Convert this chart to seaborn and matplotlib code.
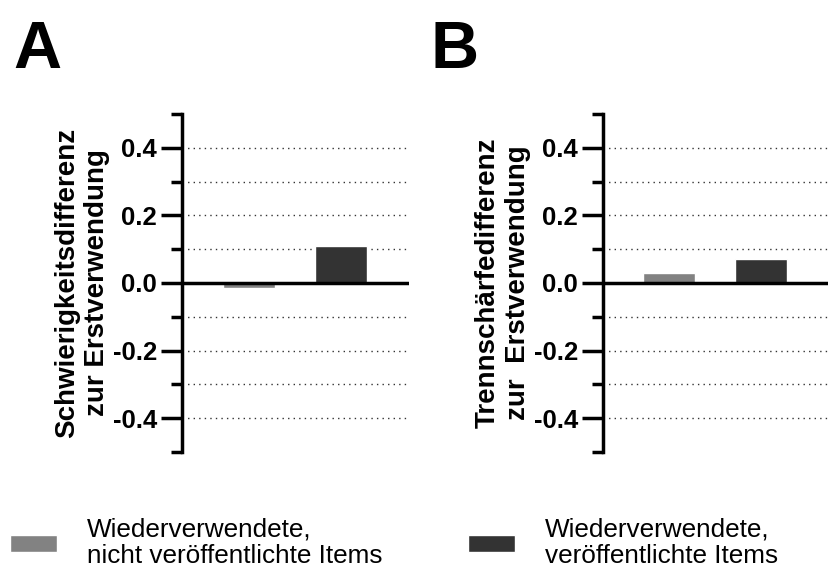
import numpy as np
import pandas as pd
import matplotlib.pyplot as plt
import seaborn as sns
from matplotlib.ticker import MultipleLocator

sns.set_style("ticks")
plt.rcParams.update({
    "font.family": ["Liberation Sans", "DejaVu Sans"],
    "axes.edgecolor": "black",
    "axes.linewidth": 2.5,
    "text.color": "black",
    "axes.labelcolor": "black",
    "ytick.color": "black",
    "xtick.color": "black",
})

# Values
groups = ["Wiederverwendete,\nnicht veröffentlichte Items",
          "Wiederverwendete,\nveröffentlichte Items"]
difficulty_diff = [-0.015, 0.11]      # Panel A
discrimination_diff = [0.03, 0.07]    # Panel B
panel_letters = ["A", "B"]
ylabels = ["Schwierigkeitsdifferenz\nzur Erstverwendung",
           "Trennschärfedifferenz\nzur  Erstverwendung"]
colors = ["#828282", "#333333"]

df = pd.DataFrame({
    "group": groups * 2,
    "value": difficulty_diff + discrimination_diff,
    "panel": ["A"] * 2 + ["B"] * 2,
})

fig = plt.figure(figsize=(8.29, 5.74), dpi=100)
ax_pos = [[0.2195, 0.2125, 0.274, 0.589],
          [0.7274, 0.2125, 0.2716, 0.589]]

handles = None
for i, panel in enumerate(panel_letters):
    ax = fig.add_axes(ax_pos[i])
    sub = df[df["panel"] == panel]
    sns.barplot(data=sub, x="group", y="value", hue="group", palette=colors,
                width=0.56, ax=ax, legend=True, saturation=1, zorder=2)
    h, l = ax.get_legend_handles_labels()
    if handles is None:
        handles, labels = h, l
    ax.get_legend().remove()

    ax.set_ylim(-0.5, 0.5)
    ax.set_xlim(-0.72, 1.73)
    ax.yaxis.set_major_locator(MultipleLocator(0.2))
    ax.yaxis.set_minor_locator(MultipleLocator(0.1))
    ax.yaxis.set_major_formatter(lambda v, p: f"{v:.1f}".replace("-0.0", "0.0"))
    ax.tick_params(axis="y", which="major", length=15, width=2.5,
                   labelsize=18.5, pad=3)
    ax.tick_params(axis="y", which="minor", length=8, width=2.5)
    for t in ax.get_yticklabels():
        t.set_fontweight("bold")
    ax.set_xticks([])
    ax.set_xlabel("")
    ax.set_ylabel(ylabels[i], fontsize=20, fontweight="bold", labelpad=2)
    for s in ["top", "right", "bottom"]:
        ax.spines[s].set_visible(False)

    # dotted grid except at the limits
    ax.yaxis.grid(True, which="both", linestyle=(0, (1, 3)), color="#333333",
                  linewidth=1)
    for tk, loc in zip(ax.yaxis.get_minor_ticks(), ax.yaxis.get_minorticklocs()):
        if abs(loc) > 0.45:
            tk.gridline.set_visible(False)
    ax.set_axisbelow(True)
    ax.axhline(0, color="black", linewidth=2.5, zorder=3)

    fig.text([0.016, 0.519][i], 0.8815, panel, fontsize=48,
             fontweight="bold", ha="left", va="baseline")

leg = fig.legend(handles, labels, loc="center left", ncol=2,
                 bbox_to_anchor=(0.012, 0.054), frameon=False, fontsize=18.8,
                 handlelength=1.8, handleheight=0.6, handletextpad=1.15,
                 columnspacing=3.28, borderpad=0, borderaxespad=0)
for t in leg.get_texts():
    t.set_linespacing(1.15)

fig.savefig("out.png", dpi=100)
